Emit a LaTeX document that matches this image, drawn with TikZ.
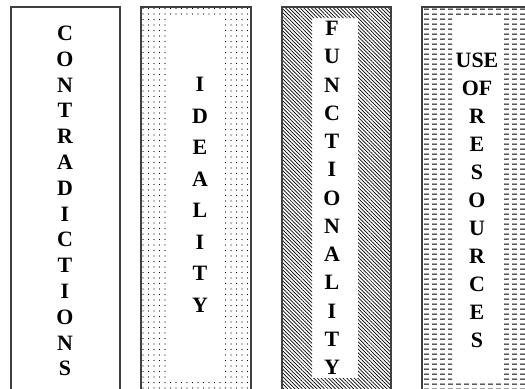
\documentclass[tikz,border=0pt]{standalone}
\usepackage{fontspec}
\setmainfont{Liberation Serif}
\usetikzlibrary{patterns.meta}
\tikzdeclarepattern{
  name=hdash,
  type=uncolored,
  bounding box={(0bp,-1bp) and (8bp,4bp)},
  tile size={(8bp,5bp)},
  code={\pgfsetlinewidth{1bp}\pgfpathmoveto{\pgfpoint{0bp}{0bp}}\pgfpathlineto{\pgfpoint{5.5bp}{0bp}}\pgfusepath{stroke}}
}
\tikzset{
  boxline/.style={draw=black!75, line width=1.1bp},
  letter/.style={font=\fontsize{22}{22}\selectfont\bfseries, inner sep=0pt, anchor=base},
}
\begin{document}
\begin{tikzpicture}[x=1bp,y=-1bp]
\useasboundingbox (0,0) rectangle (525,388);
\clip (0,0) rectangle (525,388);
\fill[white] (0,0) rectangle (525,388);
% patterns
\path[even odd rule, pattern={Dots[distance=5.5bp, radius=0.6bp]}, pattern color=black]
  (141,7) rectangle (251,400) (167,17) rectangle (222,382);
\path[even odd rule, pattern={Lines[angle=-45, distance=2.6bp, line width=0.7bp]}, pattern color=black]
  (282,7) rectangle (391,400) (312,18) rectangle (358,378);
\path[even odd rule, pattern=hdash, pattern color=black]
  (422,7) rectangle (540,400) (452,15) rectangle (503,380);
% box outlines (open at the bottom, running off the page)
\draw[boxline] (11,395) -- (11,7) -- (120,7) -- (120,395);
\draw[boxline] (141,395) -- (141,7) -- (251,7) -- (251,395);
\draw[boxline] (282,395) -- (282,7) -- (391,7) -- (391,395);
\draw[boxline] (422,395) -- (422,7) -- (535,7);
% texts
\foreach \l [count=\i] in {C,O,N,T,R,A,D,I,C,T,I,O,N,S}
  \node[letter] (a\i) at (65,{40.5+25.8*(\i-1)}) {\l};
\foreach \l [count=\i] in {I,D,E,A,L,I,T,Y}
  \node[letter] (b\i) at (200,{91.5+31.5*(\i-1)}) {\l};
\foreach \l [count=\i] in {F,U,N,C,T,I,O,N,A,L,I,T,Y}
  \node[letter] (c\i) at (332,{35.5+28.25*(\i-1)}) {\l};
\foreach \l [count=\i] in {USE,OF,R,E,S,O,U,R,C,E,S}
  \node[letter] (d\i) at (477,{67.5+28*(\i-1)}) {\l};
\end{tikzpicture}
\end{document}
